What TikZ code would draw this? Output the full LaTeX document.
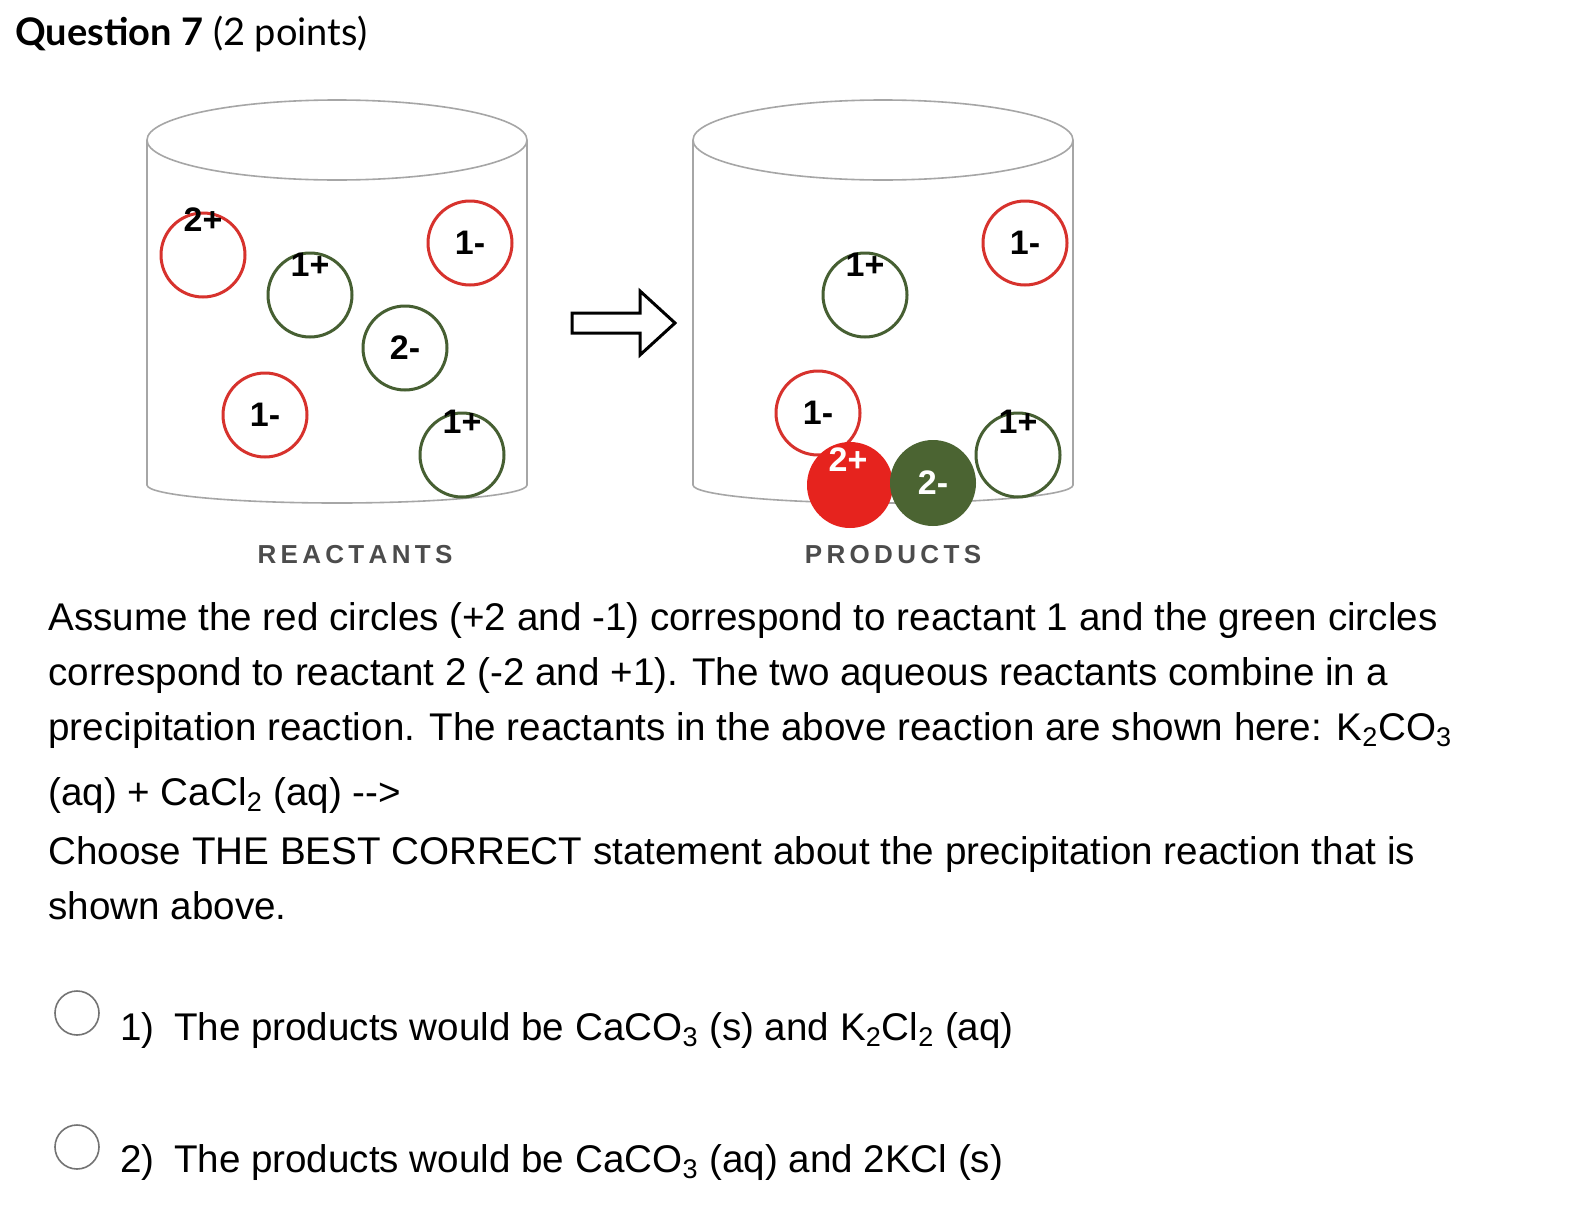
\documentclass[tikz,border=0pt]{standalone}
\usepackage{fontspec}
\setmainfont{Liberation Sans}
\newfontfamily\latofont{Lato}
\begin{document}
\begin{tikzpicture}[x=0.5pt,y=-0.5pt,
 lab/.style={font=\fontsize{17}{17}\selectfont\bfseries\rmfamily,inner sep=0pt},
 ion/.style={circle,draw,line width=1.5pt,minimum size=42pt,inner sep=0pt,lab},
 rion/.style={ion,draw={rgb,255:red,215;green,50;blue,45}},
 gion/.style={ion,draw={rgb,255:red,70;green,95;blue,50}},
 cyl/.style={draw=black!35,line width=0.8pt},
 body/.style={anchor=base west,inner sep=0pt,font=\fontsize{19.3}{22}\selectfont},
 captxt/.style={font=\fontsize{13}{13}\selectfont\bfseries,text=black!70,inner sep=0pt}]
\useasboundingbox (0,0) rectangle (1594,1210);
\fill[white] (0,0) rectangle (1594,1210);
\node[anchor=base west,inner sep=0pt,font=\fontsize{19}{19}\selectfont\latofont] (title) at (15,45) {\textbf{Question 7} (2 points)};
% cylinders
\foreach \cx in {337,883}{
 \draw[cyl] (\cx,140) ellipse [x radius=190,y radius=40];
 \draw[cyl] (\cx-190,140) -- (\cx-190,485) arc[start angle=180,end angle=0,x radius=190,y radius=18] -- (\cx+190,140);
}
% left ions
\node[rion] (a1) at (203,255) {}; \node[lab] at (203,220) {2+};
\node[gion] (a2) at (310,295) {}; \node[lab] at (310,265) {1+};
\node[rion] (a3) at (470,243) {1-};
\node[gion] (a4) at (405,348) {2-};
\node[rion] (a5) at (265,415) {1-};
\node[gion] (a6) at (462,455) {}; \node[lab] at (462,422) {1+};
% arrow
\draw[line width=1.5pt,line join=miter] (572,313) -- (640,313) -- (640,291) -- (675,323) -- (640,355) -- (640,333) -- (572,333) -- cycle;
% right ions
\node[gion] (b1) at (865,295) {}; \node[lab] at (865,265) {1+};
\node[rion] (b2) at (1025,243) {1-};
\node[rion] (b3) at (818,413) {1-};
\node[circle,fill={rgb,255:red,230;green,35;blue,30},minimum size=43pt,inner sep=0pt] (b4) at (850,485) {};
\node[lab,text=white] at (848,460) {2+};
\node[circle,fill={rgb,255:red,75;green,100;blue,50},minimum size=43pt,inner sep=0pt,text=white,lab] (b5) at (933,483) {2-};
\node[gion] (b6) at (1018,455) {}; \node[lab] at (1018,422) {1+};
\node[captxt] (c1) at (355,555) {R\,E\,A\,C\,T\,A\,N\,T\,S};
\node[captxt] (c2) at (893,555) {P\,R\,O\,D\,U\,C\,T\,S};
% text
\node[body] (t1) at (48,630) {Assume the red circles (+2 and -1) correspond to reactant 1 and the green circles};
\node[body] (t2) at (48,685) {correspond to reactant 2 (-2 and +1). The two aqueous reactants combine in a};
\node[body] (t3) at (48,740) {precipitation reaction. The reactants in the above reaction are shown here: K\textsubscript{2}CO\textsubscript{3}};
\node[body] (t4) at (48,805) {(aq) + CaCl\textsubscript{2} (aq) -{}->};
\node[body] (t5) at (48,864) {Choose THE BEST CORRECT statement about the precipitation reaction that is};
\node[body] (t6) at (48,919) {shown above.};
\node[circle,draw=black!55,line width=0.8pt,minimum size=22pt] (r1) at (77,1013) {};
\node[body] (o1) at (120,1040) {1)\enspace The products would be CaCO\textsubscript{3} (s) and K\textsubscript{2}Cl\textsubscript{2} (aq)};
\node[circle,draw=black!55,line width=0.8pt,minimum size=22pt] (r2) at (77,1147) {};
\node[body] (o2) at (120,1172) {2)\enspace The products would be CaCO\textsubscript{3} (aq) and 2KCl (s)};
\end{tikzpicture}
\end{document}
